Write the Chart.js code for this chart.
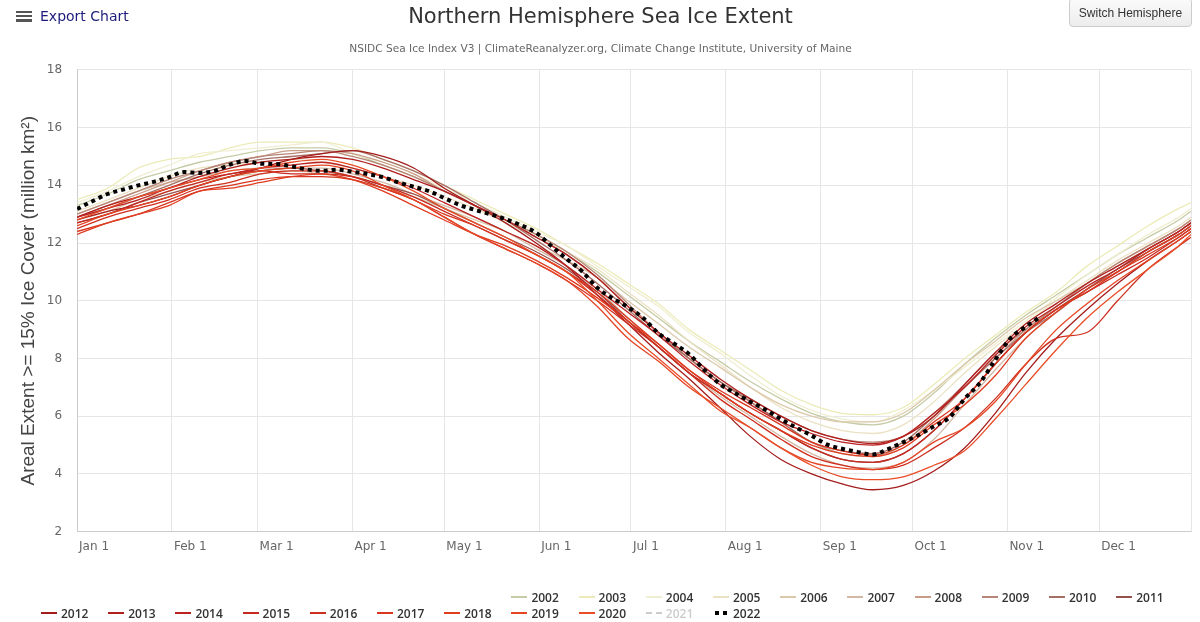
<!DOCTYPE html>
<html><head><meta charset="utf-8">
<script src="https://cdn.jsdelivr.net/npm/chart.js@4.4.1/dist/chart.umd.min.js"></script>
<style>
html,body{margin:0;padding:0;background:#fff;}
#wrap{position:relative;width:1200px;height:622px;overflow:hidden;}
#c{position:absolute;left:0;top:0;}
#export{position:absolute;left:16px;top:8px;font:14px "DejaVu Sans",sans-serif;color:#1c1c7c;display:flex;align-items:center;}
.ham{width:16px;height:11px;margin-right:8px;display:flex;flex-direction:column;justify-content:space-between}
.ham span{display:block;height:2.5px;background:#555;}
#switch{position:absolute;left:1069px;top:-2px;width:123px;height:29px;box-sizing:border-box;border:1px solid #ccc;border-radius:4px;background:linear-gradient(#fafafa,#ededed);font:12px "Liberation Sans",Arial,sans-serif;color:#333;display:flex;align-items:center;justify-content:center;}
.leg{position:absolute;font:600 12px "Open Sans",sans-serif;color:#333;display:flex;align-items:center;white-space:nowrap;height:14px;}
.sw{width:16px;height:0;margin-right:4px;}
</style>
</head><body>
<div id="wrap">
<canvas id="c" width="1200" height="622"></canvas>
<div id="export"><div class="ham"><span></span><span></span><span></span></div>Export Chart</div>
<div id="switch">Switch Hemisphere</div>
<div id="legend"></div>
</div>
<script>
// ---- data ----
const days = [0,10,20,30,40,50,60,70,80,90,100,110,120,130,140,150,160,170,180,190,200,210,220,230,240,250,260,270,280,290,300,310,320,330,340,350,360,364];
const monthTicks = [0,31,59,90,120,151,181,212,243,273,304,334];
const monthLabels = ['Jan 1','Feb 1','Mar 1','Apr 1','May 1','Jun 1','Jul 1','Aug 1','Sep 1','Oct 1','Nov 1','Dec 1'];
const years = ['2002','2003','2004','2005','2006','2007','2008','2009','2010','2011','2012','2013','2014','2015','2016','2017','2018','2019','2020','2021','2022'];

const ext2002 = [13.3,13.7,14.2,14.5,14.8,15.0,15.2,15.3,15.3,15.1,14.7,14.3,13.8,13.3,12.8,12.3,11.7,11.0,10.2,9.4,8.6,7.9,7.2,6.6,6.1,5.8,5.7,6.0,6.8,7.8,8.7,9.5,10.2,10.9,11.6,12.2,12.8,13.1];
const ext2003 = [13.5,13.9,14.6,14.9,15.0,15.3,15.5,15.5,15.5,15.3,14.9,14.5,14.0,13.5,13.0,12.5,11.9,11.3,10.6,9.9,9.0,8.3,7.6,6.9,6.4,6.1,6.05,6.3,7.1,8.0,8.8,9.6,10.3,11.2,11.9,12.6,13.2,13.4];
const ext2004 = [13.4,13.8,14.3,14.7,15.1,15.2,15.3,15.4,15.5,15.1,14.8,14.4,13.9,13.4,12.9,12.4,11.9,11.2,10.5,9.8,8.9,8.2,7.4,6.7,6.2,5.9,5.8,6.2,6.9,7.7,8.5,9.3,10.1,10.9,11.6,12.3,12.9,13.2];
const ext2005 = [13.1,13.5,13.9,14.3,14.6,14.7,14.8,14.9,14.8,14.6,14.3,14.0,13.6,13.2,12.7,12.2,11.7,11.1,10.3,9.5,8.6,7.8,7.0,6.3,5.8,5.5,5.4,5.7,6.5,7.5,8.4,9.2,10.0,10.7,11.4,12.0,12.6,12.9];
const ext2006 = [12.8,13.1,13.5,13.8,14.1,14.3,14.4,14.5,14.4,14.2,13.9,13.6,13.2,12.8,12.4,11.9,11.4,10.8,10.0,9.2,8.4,7.7,7.0,6.4,6.0,5.8,5.8,6.1,6.9,7.8,8.6,9.4,10.0,10.6,11.2,11.8,12.4,12.7];
const ext2007 = [13.0,13.4,13.8,14.1,14.3,14.5,14.6,14.6,14.6,14.4,14.1,13.7,13.3,12.9,12.4,11.8,11.2,10.4,9.4,8.4,7.5,6.7,6.0,5.3,4.7,4.3,4.2,4.4,5.2,6.4,7.6,8.7,9.6,10.4,11.1,11.8,12.4,12.7];
const ext2008 = [12.9,13.3,13.7,14.1,14.5,14.8,15.0,15.2,15.2,15.1,14.8,14.4,13.8,13.3,12.8,12.2,11.6,10.8,9.8,8.9,8.0,7.2,6.5,5.8,5.1,4.7,4.6,5.0,5.9,7.0,8.0,9.0,9.8,10.6,11.3,11.9,12.5,12.8];
const ext2009 = [13.0,13.4,13.8,14.2,14.5,14.8,15.0,15.1,15.2,15.0,14.7,14.3,13.8,13.3,12.8,12.3,11.7,10.9,9.9,8.9,8.0,7.2,6.6,6.0,5.5,5.2,5.1,5.3,6.1,7.1,8.2,9.0,9.8,10.6,11.3,11.9,12.5,12.8];
const ext2010 = [12.9,13.2,13.6,14.0,14.4,14.7,14.9,15.0,15.1,15.2,14.9,14.5,14.0,13.4,12.8,12.1,11.4,10.6,9.7,8.8,8.0,7.2,6.5,5.8,5.1,4.8,4.7,5.1,6.0,7.0,8.0,8.9,9.6,10.4,11.0,11.7,12.3,12.6];
const ext2011 = [12.7,13.0,13.4,13.7,14.0,14.3,14.5,14.6,14.5,14.3,14.0,13.7,13.2,12.7,12.2,11.7,11.1,10.3,9.3,8.4,7.5,6.8,6.1,5.5,4.9,4.5,4.4,4.7,5.5,6.6,7.8,8.9,9.7,10.4,11.1,11.7,12.3,12.6];
const ext2012 = [12.8,13.1,13.3,13.6,14.0,14.3,14.6,14.9,15.1,15.2,15.0,14.6,13.9,13.3,12.7,12.0,11.2,10.2,9.2,8.2,7.3,6.3,5.3,4.5,4.0,3.65,3.45,3.6,4.1,4.9,6.1,7.5,8.7,9.7,10.6,11.4,12.1,12.4];
const ext2013 = [12.9,13.3,13.6,13.9,14.3,14.6,14.8,14.9,15.0,14.9,14.6,14.2,13.8,13.3,12.8,12.2,11.6,10.8,9.8,8.9,8.1,7.3,6.6,6.0,5.5,5.2,5.05,5.3,6.0,7.1,8.2,9.2,9.9,10.6,11.2,11.8,12.4,12.7];
const ext2014 = [12.9,13.2,13.5,13.9,14.2,14.4,14.6,14.7,14.8,14.6,14.3,13.9,13.4,12.9,12.4,11.9,11.2,10.4,9.6,8.8,7.9,7.1,6.4,5.8,5.4,5.1,5.0,5.3,6.1,7.0,8.1,9.1,9.8,10.5,11.1,11.8,12.4,12.7];
const ext2015 = [12.7,13.0,13.4,13.8,14.1,14.4,14.5,14.4,14.4,14.3,14.0,13.6,13.1,12.6,12.1,11.6,11.0,10.2,9.3,8.4,7.5,6.8,6.1,5.5,4.9,4.5,4.4,4.7,5.5,6.6,7.8,8.9,9.7,10.3,10.9,11.5,12.2,12.5];
const ext2016 = [12.5,12.9,13.2,13.5,13.9,14.1,14.4,14.5,14.5,14.3,13.9,13.5,12.9,12.3,11.8,11.3,10.7,10.0,9.2,8.4,7.5,6.6,5.9,5.2,4.6,4.3,4.15,4.3,4.9,5.6,6.6,7.8,8.7,8.9,10.0,11.1,11.9,12.2];
const ext2017 = [12.4,12.7,13.0,13.4,13.8,14.0,14.2,14.3,14.3,14.2,13.9,13.5,13.0,12.6,12.1,11.6,11.0,10.3,9.4,8.5,7.6,6.9,6.3,5.7,5.1,4.8,4.65,5.0,5.8,6.6,7.8,8.9,9.7,10.3,11.0,11.6,12.2,12.5];
const ext2018 = [12.3,12.7,13.0,13.3,13.8,13.9,14.1,14.3,14.4,14.2,13.8,13.3,12.8,12.3,11.9,11.4,10.8,10.1,9.3,8.5,7.6,6.8,6.1,5.5,5.0,4.7,4.6,4.9,5.7,6.4,7.4,8.7,9.6,10.4,11.0,11.7,12.3,12.6];
const ext2019 = [12.6,13.0,13.3,13.6,14.0,14.3,14.5,14.6,14.7,14.5,14.0,13.5,12.9,12.3,11.8,11.3,10.7,9.8,8.7,7.9,7.0,6.3,5.6,4.9,4.4,4.2,4.15,4.4,5.1,5.6,6.5,7.8,9.0,9.9,10.7,11.4,12.1,12.4];
const ext2020 = [12.8,13.2,13.6,13.9,14.2,14.5,14.6,14.8,14.9,14.7,14.3,13.8,13.2,12.7,12.2,11.6,11.0,10.0,8.9,8.0,7.1,6.2,5.6,4.9,4.3,3.9,3.8,3.9,4.3,4.8,5.9,7.1,8.3,9.4,10.3,11.1,11.9,12.3];
const ext2021 = []; // hidden series in the reference
const days2022 = [0,5,10,15,20,25,30,35,40,45,50,55,60,65,70,75,80,85,90,95,100,105,110,115,120,125,130,135,140,145,150,155,160,165,170,175,180,185,190,195,200,205,210,215,220,225,230,235,240,245,250,255,260,265,270,275,280,285,290,295,300,305,310,315];
const ext2022 = [13.18,13.45,13.70,13.85,14.00,14.12,14.28,14.46,14.43,14.50,14.72,14.84,14.75,14.74,14.66,14.55,14.50,14.54,14.47,14.39,14.28,14.10,13.95,13.80,13.56,13.32,13.15,13.00,12.83,12.62,12.36,11.90,11.45,11.02,10.45,10.08,9.78,9.40,8.87,8.52,8.15,7.60,7.12,6.80,6.50,6.22,5.90,5.60,5.33,5.02,4.87,4.76,4.67,4.86,5.10,5.35,5.65,5.95,6.60,7.15,7.95,8.70,9.10,9.46];

const seriesValues = [ext2002,ext2003,ext2004,ext2005,ext2006,ext2007,ext2008,ext2009,ext2010,ext2011,ext2012,ext2013,ext2014,ext2015,ext2016,ext2017,ext2018,ext2019,ext2020,ext2021,ext2022];

// ---- styles ----
const lineColors = ['#c5cca6','#ecebb8','#f0eed2','#ebe1c3','#dcc9ac','#d2b9a6','#c99c88','#b88676','#a56f66','#94504a',
  '#a51c1c','#b01e1e','#bb2222','#c6291f','#cf2f1f','#d8361f','#e03c20','#e54524','#e94e28','#cccccc','#000000'];

const datasets = years.map((yr, i) => {
  const is22 = yr === '2022';
  const xs = is22 ? days2022 : days;
  const vals = seriesValues[i];
  return {
    label: yr,
    data: vals.map((v, k) => ({x: xs[k], y: v})),
    borderColor: lineColors[i],
    backgroundColor: lineColors[i],
    borderWidth: is22 ? 4 : 1.3,
    borderDash: is22 ? [4, 4] : (yr === '2021' ? [4, 3] : []),
    borderCapStyle: 'butt',
    pointRadius: 0,
    cubicInterpolationMode: 'monotone',
    hidden: yr === '2021',
    order: is22 ? 0 : 100 - i,
    fill: false
  };
});

const plotBorder = {
  id: 'plotBorder',
  beforeDatasetsDraw(chart) {
    const {ctx, chartArea: a} = chart;
    ctx.save();
    ctx.strokeStyle = '#e6e6e6';
    ctx.lineWidth = 1;
    ctx.beginPath();
    ctx.moveTo(Math.round(a.right) + 0.5, a.top);
    ctx.lineTo(Math.round(a.right) + 0.5, a.bottom);
    ctx.stroke();
    ctx.restore();
  }
};

const chart = new Chart(document.getElementById('c'), {
  type: 'line',
  data: {datasets},
  plugins: [plotBorder],
  options: {
    responsive: false,
    animation: false,
    layout: {padding: {left: 10, right: 9, top: 0, bottom: 60}},
    plugins: {
      legend: {display: false},
      tooltip: {enabled: false},
      title: {display: true, text: 'Northern Hemisphere Sea Ice Extent', color: '#333',
        font: {family: 'DejaVu Sans', size: 21, weight: 'normal'}, padding: {top: 5, bottom: 6}},
      subtitle: {display: true, text: 'NSIDC Sea Ice Index V3 | ClimateReanalyzer.org, Climate Change Institute, University of Maine',
        color: '#666', font: {family: 'DejaVu Sans', size: 10.6}, padding: {top: 7, bottom: 14}}
    },
    scales: {
      x: {
        type: 'linear', min: 0, max: 364,
        afterBuildTicks: s => { s.ticks = monthTicks.map(v => ({value: v})); },
        grid: {color: '#e6e6e6', drawTicks: false},
        border: {color: '#ccc'},
        ticks: {align: 'start', labelOffset: 2, padding: 8, color: '#666', maxRotation: 0, autoSkip: false,
          font: {family: 'DejaVu Sans', size: 12},
          callback: (v, i) => monthLabels[i]}
      },
      y: {
        min: 2, max: 18,
        grid: {color: '#e6e6e6', drawTicks: false},
        border: {color: '#ccc'},
        ticks: {stepSize: 2, padding: 15, color: '#666', font: {family: 'DejaVu Sans', size: 12}},
        title: {display: true, text: 'Areal Extent >= 15% Ice Cover (million km²)', color: '#444',
          font: {family: 'Liberation Sans', size: 19}, padding: {top: 7, bottom: -8}}
      }
    }
  }
});

// ---- HTML legend built from the chart's datasets ----
const legend = document.getElementById('legend');
chart.data.datasets.forEach((ds, i) => {
  const row = i < 10 ? 0 : 1;
  const col = i < 10 ? i + 7 : i - 10;
  const item = document.createElement('div');
  item.className = 'leg';
  item.style.left = (41 + col * 67.2) + 'px';
  item.style.top = (row === 0 ? 590 : 606) + 'px';
  const sw = document.createElement('div');
  sw.className = 'sw';
  if (ds.label === '2022') {
    sw.style.height = '4px';
    sw.style.width = '12px';
    sw.style.marginLeft = '2px';
    sw.style.marginRight = '6px';
    sw.style.background = 'repeating-linear-gradient(90deg,#000 0 4px,transparent 4px 8px)';
  } else if (ds.hidden) {
    sw.style.borderTop = '2px dashed #ccc';
  } else {
    sw.style.borderTop = '2px solid ' + ds.borderColor;
  }
  const tx = document.createElement('span');
  tx.textContent = ds.label;
  if (ds.hidden) tx.style.color = '#ccc';
  item.appendChild(sw);
  item.appendChild(tx);
  legend.appendChild(item);
});
</script>
</body></html>
